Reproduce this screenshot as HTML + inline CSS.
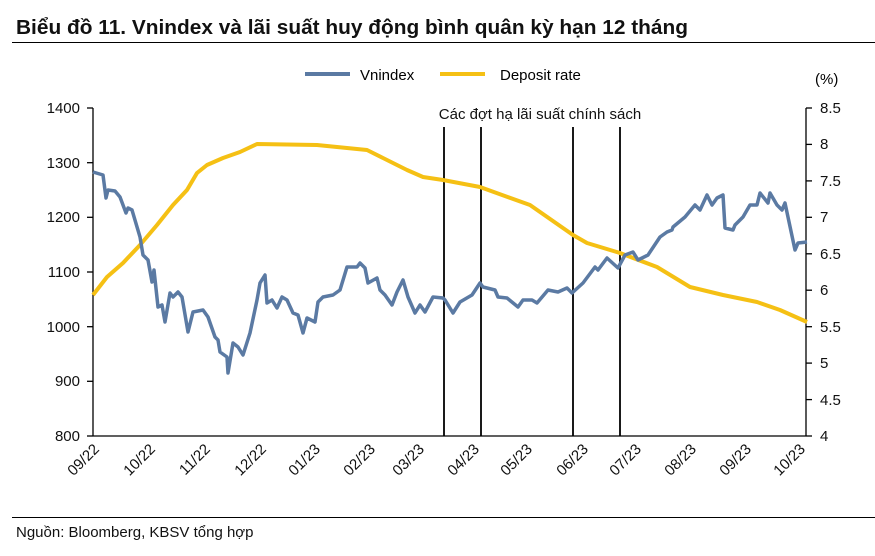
<!DOCTYPE html>
<html><head><meta charset="utf-8"><style>
body{margin:0;background:#fff;width:875px;height:551px;overflow:hidden;font-family:"Liberation Sans",sans-serif}
</style></head><body>
<svg width="875" height="551" xmlns="http://www.w3.org/2000/svg" font-family="Liberation Sans, sans-serif">
<text x="16" y="34" font-size="20" font-weight="bold" fill="#111" textLength="672" lengthAdjust="spacingAndGlyphs">Biểu đồ 11. Vnindex và lãi suất huy động bình quân kỳ hạn 12 tháng</text>
<line x1="12" y1="42.5" x2="875" y2="42.5" stroke="#000" stroke-width="1"/>
<line x1="12" y1="517.5" x2="875" y2="517.5" stroke="#000" stroke-width="1"/>
<text x="16" y="537" font-size="15" fill="#111">Nguồn: Bloomberg, KBSV tổng hợp</text>
<!-- legend -->
<line x1="305" y1="74" x2="350" y2="74" stroke="#5b7aa3" stroke-width="4"/>
<text x="360" y="80" font-size="15">Vnindex</text>
<line x1="440" y1="74" x2="485" y2="74" stroke="#f5c014" stroke-width="4"/>
<text x="500" y="80" font-size="15">Deposit rate</text>
<text x="815" y="84" font-size="15">(%)</text>
<!-- axes -->
<g stroke="#000" stroke-width="1.3">
<line x1="93" y1="108" x2="93" y2="436"/>
<line x1="806" y1="108" x2="806" y2="436"/>
<line x1="93" y1="436" x2="806" y2="436"/>
<line x1="87" y1="108" x2="93" y2="108"/><line x1="87" y1="162.7" x2="93" y2="162.7"/><line x1="87" y1="217.3" x2="93" y2="217.3"/><line x1="87" y1="272" x2="93" y2="272"/><line x1="87" y1="326.7" x2="93" y2="326.7"/><line x1="87" y1="381.3" x2="93" y2="381.3"/><line x1="87" y1="436" x2="93" y2="436"/>
<line x1="806" y1="108" x2="812" y2="108"/><line x1="806" y1="144.4" x2="812" y2="144.4"/><line x1="806" y1="180.9" x2="812" y2="180.9"/><line x1="806" y1="217.3" x2="812" y2="217.3"/><line x1="806" y1="253.8" x2="812" y2="253.8"/><line x1="806" y1="290.2" x2="812" y2="290.2"/><line x1="806" y1="326.7" x2="812" y2="326.7"/><line x1="806" y1="363.1" x2="812" y2="363.1"/><line x1="806" y1="399.6" x2="812" y2="399.6"/><line x1="806" y1="436" x2="812" y2="436"/>
</g>
<g font-size="15" text-anchor="end" fill="#111">
<text x="80" y="113">1400</text><text x="80" y="168">1300</text><text x="80" y="222">1200</text><text x="80" y="277">1100</text><text x="80" y="332">1000</text><text x="80" y="386">900</text><text x="80" y="441">800</text>
</g>
<g font-size="15" fill="#111">
<text x="820" y="113">8.5</text><text x="820" y="149">8</text><text x="820" y="186">7.5</text><text x="820" y="222">7</text><text x="820" y="259">6.5</text><text x="820" y="295">6</text><text x="820" y="332">5.5</text><text x="820" y="368">5</text><text x="820" y="405">4.5</text><text x="820" y="441">4</text>
</g>
<g font-size="15" fill="#111" text-anchor="end">
<text transform="translate(100,450) rotate(-45)">09/22</text>
<text transform="translate(156,450) rotate(-45)">10/22</text>
<text transform="translate(211,450) rotate(-45)">11/22</text>
<text transform="translate(267,450) rotate(-45)">12/22</text>
<text transform="translate(321,450) rotate(-45)">01/23</text>
<text transform="translate(376,450) rotate(-45)">02/23</text>
<text transform="translate(425,450) rotate(-45)">03/23</text>
<text transform="translate(480,450) rotate(-45)">04/23</text>
<text transform="translate(533,450) rotate(-45)">05/23</text>
<text transform="translate(589,450) rotate(-45)">06/23</text>
<text transform="translate(642,450) rotate(-45)">07/23</text>
<text transform="translate(697,450) rotate(-45)">08/23</text>
<text transform="translate(752,450) rotate(-45)">09/23</text>
<text transform="translate(806,450) rotate(-45)">10/23</text>
</g>
<!-- vertical lines -->
<g stroke="#000" stroke-width="1.8">
<line x1="444" y1="127" x2="444" y2="436"/><line x1="481" y1="127" x2="481" y2="436"/><line x1="573" y1="127" x2="573" y2="436"/><line x1="620" y1="127" x2="620" y2="436"/>
</g>
<text x="540" y="119" font-size="15" text-anchor="middle" fill="#111">Các đợt hạ lãi suất chính sách</text>
<polyline fill="none" stroke="#f5c014" stroke-width="4" stroke-linejoin="round" points="93,295 107,277 123,263 140,245 157,225 173,205 187,190 197,173 207,165 223,158 240,152 257,144 317,145 367,150 383,158 407,170 423,177 443,180 480,187 530,205 573,235 587,243 620,253 657,267 690,287 723,295 757,302 780,310 807,322"/>
<polyline fill="none" stroke="#5b7aa3" stroke-width="3.5" stroke-linejoin="round" points="93,172 103,175 106,198 108,190 115,191 120,197 126,213 128,208 132,210 140,237 143,255 148,260 152,282 154,270 158,307 162,305 165,322 170,293 173,297 178,292 182,297 188,332 193,312 203,310 208,317 215,337 218,340 220,352 227,357 228,373 233,343 238,347 243,355 250,333 257,300 260,283 265,275 267,303 272,300 277,308 282,297 287,300 293,313 298,315 303,333 307,318 315,322 318,302 323,297 333,295 340,290 347,267 357,267 360,263 365,268 368,283 377,278 380,290 385,295 392,305 397,292 403,280 408,297 415,313 420,305 425,312 433,297 443,298 445,300 453,313 460,302 472,295 480,283 483,287 495,290 498,297 507,298 518,307 523,300 532,300 537,303 548,290 558,292 567,288 572,293 583,283 595,267 598,270 607,258 618,268 625,255 633,252 638,260 648,255 660,237 667,232 672,230 673,227 685,217 695,205 700,210 707,195 712,205 717,198 723,195 725,228 733,230 735,225 743,217 750,205 757,205 760,193 768,203 770,193 777,205 782,210 785,203 795,250 798,243 807,242"/>
</svg>
</body></html>
